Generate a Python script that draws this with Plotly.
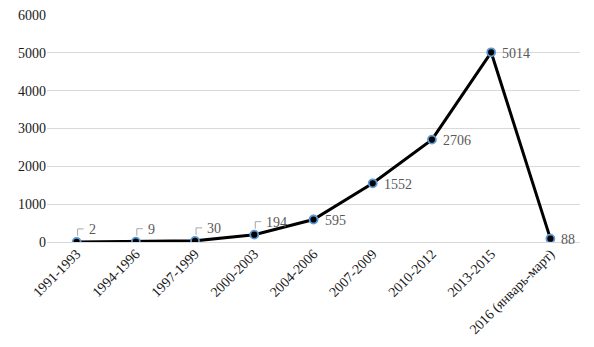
import plotly.graph_objects as go

categories = ["1991-1993", "1994-1996", "1997-1999", "2000-2003", "2004-2006",
              "2007-2009", "2010-2012", "2013-2015", "2016 (январь-март)"]
values = [2, 9, 30, 194, 595, 1552, 2706, 5014, 88]
leader_labeled = [True, True, True, True, False, False, False, False, False]
y_ticks = [0, 1000, 2000, 3000, 4000, 5000, 6000]

FONT = "Liberation Serif"
LABEL_COLOR = "#595959"
TICK_COLOR = "#1A1A1A"

fig = go.Figure()
fig.add_trace(go.Scatter(
    x=categories, y=values, mode="lines+markers",
    line=dict(color="black", width=3),
    marker=dict(size=8, color="black", line=dict(color="#5B9BD5", width=1.8)),
    hoverinfo="x+y", showlegend=False,
))

for i, (c, v, l) in enumerate(zip(categories, values, leader_labeled)):
    if l:
        fig.add_annotation(x=c, y=v, text=str(v), showarrow=False,
                           xanchor="left", yanchor="middle", xshift=10, yshift=12,
                           font=dict(family=FONT, size=14, color=LABEL_COLOR))
        fig.add_shape(type="path", xref="x", yref="y",
                      xsizemode="pixel", ysizemode="pixel",
                      xanchor=i, yanchor=v,
                      path="M 1,6 L 1,13 L 7,13",
                      line=dict(color="#A6A6A6", width=1))
    else:
        fig.add_annotation(x=c, y=v, text=str(v), showarrow=False,
                           xanchor="left", yanchor="middle", xshift=9, yshift=-1,
                           font=dict(family=FONT, size=14, color=LABEL_COLOR))

# page body has an 8px default margin; margins compensate for it
fig.update_layout(
    width=594, height=347,
    margin=dict(l=39, r=22, t=7, b=113, autoexpand=False),
    paper_bgcolor="white", plot_bgcolor="white",
    font=dict(family=FONT, size=14, color=TICK_COLOR),
)
fig.update_xaxes(
    type="category", range=[-0.5, 8.5], tickangle=-45, automargin=False,
    showgrid=False, showline=False, ticks="", ticklabeloverflow="allow",
    tickfont=dict(family=FONT, size=14, color=TICK_COLOR),
)
fig.update_yaxes(
    range=[0, 6000], tickvals=y_ticks, showgrid=True, gridcolor="#D9D9D9",
    gridwidth=1, zeroline=True, zerolinecolor="#D9D9D9", zerolinewidth=1,
    showline=False, ticks="", automargin=False, ticklabeloverflow="allow",
    tickfont=dict(family=FONT, size=14, color=TICK_COLOR),
)

fig.write_html("out.html")
